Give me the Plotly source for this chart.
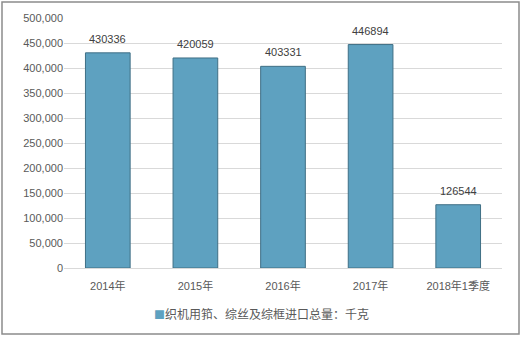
import plotly.graph_objects as go

categories = ["2014年", "2015年", "2016年", "2017年", "2018年1季度"]
values = [430336, 420059, 403331, 446894, 126544]
series_name = "织机用筘、综丝及综框进口总量：千克"
y_ticks = [0, 50000, 100000, 150000, 200000, 250000, 300000, 350000, 400000, 450000, 500000]

font_family = "Liberation Sans, Noto Sans CJK SC, sans-serif"
bar_color = "#5ea1c0"

fig = go.Figure()
fig.add_trace(go.Bar(
    x=categories, y=values, name=series_name,
    marker=dict(color=bar_color, line=dict(color="#3f6f85", width=1)),
    width=0.51,
    showlegend=False,
))

annotations = [dict(x=c, y=v, xref="x", yref="y", text=str(v), showarrow=False,
                    yanchor="bottom", yshift=6,
                    font=dict(size=11, color="#404040", family=font_family))
               for c, v in zip(categories, values)]
annotations.append(dict(
    xref="paper", yref="paper", x=(261 - 64) / 438, y=-(313 - 268) / 250,
    xanchor="center", yanchor="middle", showarrow=False,
    text=f"<span style='color:{bar_color};font-size:11px'>■</span>{series_name}",
    font=dict(size=12, color="#595959", family="Noto Sans CJK SC, sans-serif")))

fig.update_layout(
    width=522, height=337,
    margin=dict(l=64, r=20, t=18, b=69),
    paper_bgcolor="white", plot_bgcolor="white",
    font=dict(family=font_family, size=11, color="#595959"),
    showlegend=False,
    annotations=annotations,
    xaxis=dict(showgrid=False, showline=True, linecolor="#d9d9d9", linewidth=1,
               ticks="", ticklabelstandoff=8,
               tickfont=dict(size=11, color="#595959", family="Liberation Sans, Noto Sans CJK SC")),
    yaxis=dict(range=[0, 500000], tickvals=y_ticks, tickformat=",",
               showgrid=True, gridcolor="#d9d9d9", gridwidth=1,
               zeroline=False, showline=False, ticks="",
               tickfont=dict(size=11, color="#595959")),
    shapes=[dict(type="rect", xref="paper", yref="paper",
                 x0=(2 - 64) / 438, x1=(519 - 64) / 438,
                 y0=(268 - 334) / 250, y1=(268 - 2) / 250,
                 line=dict(color="#8c8c8c", width=1.5), fillcolor="rgba(0,0,0,0)", layer="below")],
)

fig.write_html("out.html")
